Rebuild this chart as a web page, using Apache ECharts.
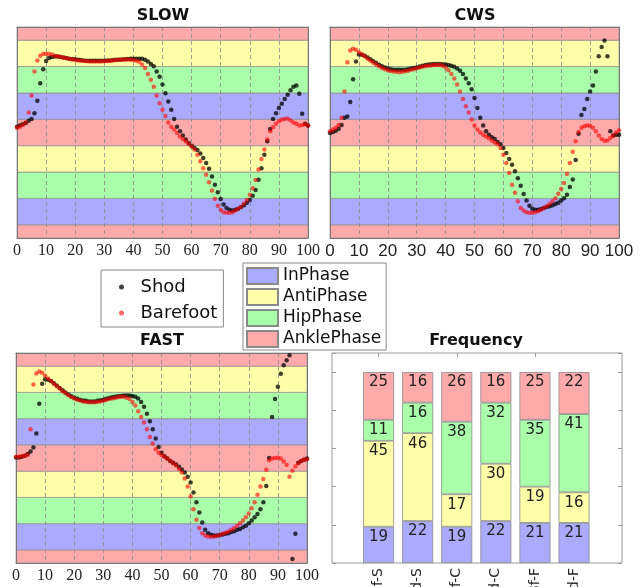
<!DOCTYPE html>
<html>
<head>
<meta charset="utf-8">
<script src="https://cdn.jsdelivr.net/npm/echarts@6/dist/echarts.min.js"></script>
<style>
  html, body { margin: 0; padding: 0; background: #fff; }
  #chart { width: 642px; height: 587px; }
</style>
</head>
<body>
<div id="chart"></div>
<script>
// Coordination phases and their band colours
const phaseNames = ['InPhase', 'AntiPhase', 'HipPhase', 'AnklePhase'];
const phaseColors = ['#aaaaff', '#ffffaa', '#aaffaa', '#ffaaaa'];

// Coupling-angle bins (degrees) and the phase each bin belongs to, bottom to top
const bandEdges = [0, 22.5, 67.5, 112.5, 157.5, 202.5, 247.5, 292.5, 337.5, 360];
const bandPhase = ['AnklePhase', 'InPhase', 'HipPhase', 'AntiPhase', 'AnklePhase',
                   'InPhase', 'HipPhase', 'AntiPhase', 'AnklePhase'];

// Coupling angle (deg) at each percent of the gait cycle, 0..100
const slowShod = [190,192,194,196,200,203,213,234,264,288,302,307,309,309.5,309.5,309,308,307,306,305.5,
  305,304,303.5,303,302.5,302.5,302.5,302.5,302.5,302.5,302.5,303,303,303.5,304,304,304.5,305,305.5,306,
  306,306,306,306,304,301,297,293,284,275,262,247,233,219,203,190,182,175,168,162,
  157.5,153.5,150,144,136.5,128,118,105,91,78,66.5,57,51,48,47,48,50,53,56,60,
  65,72,82,99.5,119,142,165,186,203,213,222,229,237,244.5,252,258,260,246,212,195,192];
const slowBare = [188,190,193,197,214,243,284,303,311,314,314.5,314,313,311,310,309,307.5,306.5,305.5,304.5,
  304,303,302.5,302,301.5,301,301,301,301,301,301.5,302,302.5,303,303.5,304,304,304.5,304.5,304,
  303.5,302.5,300.5,296,290,280,270,258,243,230,219,208,197,190,185,179,173,169,165,161,
  156,151,142,131,119,108,95,81,67,55,48,44,43,43,44,47,50,53,59,65,
  74,85,99,117,135,151,168,182,189,195,199,202,203,204,201,197,195,192,193,194,192];

const cwsShod = [179,181,183,186.5,193,205,207.5,232,271,301,313,312.5,311,308,305,301.5,298.5,295.5,293,291,
  289,288,287,287,287,287,287,288,289,290,291,292.5,294,295,296,296.5,297,297,297,296.5,
  296,295,294,292,289,285.5,280,272,264,254,239,222,205,192,182,176,172,169,164,160,
  153.5,145,135,125,114,102,89,75,64,55,50,48,48,49.5,51,53,54,56,58,60,
  64,68,74,87,100,133,178,210,220,237,250,260,284,310,326,337,310,182,175,176,176];
const cwsBare = [182,185,188,193,205,250,300,320,323,321,317,313.5,310,306,302.5,299,296,293,290,288,
  286,285,284,283.5,283,283.5,284.5,285.5,287,288,289.5,291,292,293,294,294.5,295,295,295,294,
  291,286,280,272,262,250,237,225,214,202,192,185,180,176,173,170,166.5,163,160,153.5,
  142,128,111,91,77,62.5,51,47,44,43,43,44,45.5,48,51,54,58,62.5,68,75.5,
  83.5,94,109,128,147,165,181,188,190.5,192,191.5,188,182,175,169,166,166.5,170.5,174.5,180,184];

const fastShod = [181,181,182,184,187,191,198,222,273,307.5,315,314,312,308,304.5,300,296,292.5,289,286,
  283.5,281.5,280,278.5,278,277,277,277,278,279,280,281.5,283,284,285,286,286.5,287,287,287,
  286.5,285,282,276,268,256,243,229.5,213.5,199,189,183,179,175,172,169,165,160.5,155,148,
  138,121,104,86.5,69.5,57,51,48.5,47,47,48,49,50,51,53,54.5,57,58.5,61.5,64,
  68,73,78.5,84,92,104,132,180,250.5,281,302,324.5,339,347.5,356,7,50,172,175,177,179];
const fastBare = [182,182,183,184,185,229.5,306,325,328.5,326,321,316.5,312,307.5,303,299,294.5,291,287.5,284.5,
  282,280,278.5,277,276,275.5,275.5,275.5,276,277,278,279.5,281,282,283,284,285,285,283.5,281,
  276,270,260,250.5,241,229.5,216,205,195,189,185,182,179,175,171,167,161,155,145,131,
  114,92,74,60,51,47,45.5,45,45.5,46.5,48,50,52,54,57,60,64,68,73,78.5,
  85,94,104,117,131,144,160,176,179,180,180.5,179,174,168,148,158,166,171,175,177,178];

// Share (%) of the cycle spent in each phase, per condition
const freqCats = ['Bf-S', 'Shd-S', 'Bf-C', 'Shd-C', 'Bf-F', 'Shd-F'];
const freqInPhase    = [19, 22, 19, 22, 21, 21];
const freqAntiPhase  = [45, 46, 17, 30, 19, 16];
const freqHipPhase   = [11, 16, 38, 32, 35, 41];
const freqAnklePhase = [25, 16, 26, 16, 25, 22];
const freqValues = [freqInPhase, freqAntiPhase, freqHipPhase, freqAnklePhase];

const panelTitles = ['SLOW', 'CWS', 'FAST', 'Frequency'];

const colorOf = name => phaseColors[phaseNames.indexOf(name)];
const bandAreas = bandPhase.map((p, i) => [
  { yAxis: bandEdges[i], itemStyle: { color: colorOf(p) } },
  { yAxis: bandEdges[i + 1] }
]);
const toPoints = arr => arr.map((v, i) => [i, v]);

const frameColor = '#777';
const serifLabels = { fontFamily: 'Liberation Serif', fontSize: 16, color: '#222', margin: 5 };
const sansLabels = { fontFamily: 'Liberation Sans', fontSize: 17, color: '#222', margin: 5 };

const panelGrids = [
  { left: 17, top: 27, width: 291, height: 211 },
  { left: 330, top: 27, width: 289, height: 211 },
  { left: 16, top: 353, width: 291, height: 210 }
];
const panelLabelStyles = [serifLabels, sansLabels, serifLabels];
const panelSeries = [[slowShod, slowBare], [cwsShod, cwsBare], [fastShod, fastBare]];

const grid = panelGrids.map(g => Object.assign({ outerBoundsMode: 'none', containLabel: false }, g));
grid.push({ left: 359, top: 353, width: 234.6, height: 210, outerBoundsMode: 'none', containLabel: false });
grid.push({ left: 332, top: 353, width: 290, height: 210, show: true, outerBoundsMode: 'none',
            containLabel: false, borderColor: '#999', borderWidth: 1, backgroundColor: 'transparent' });

const xAxis = [];
const yAxis = [];
panelGrids.forEach((g, k) => {
  xAxis.push({
    type: 'value', gridIndex: k, min: 0, max: 100, interval: 10, z: 3,
    axisLine: { show: true, onZero: false, lineStyle: { color: frameColor, width: 1 } },
    axisTick: { show: false },
    axisLabel: panelLabelStyles[k],
    splitLine: { show: true, lineStyle: { color: '#8a8a8a', width: 0.8, type: [4, 3] } }
  });
  xAxis.push({
    type: 'value', gridIndex: k, position: 'top', min: 0, max: 100, z: 3,
    axisLine: { show: true, onZero: false, lineStyle: { color: frameColor, width: 1 } },
    axisTick: { show: false }, axisLabel: { show: false }, splitLine: { show: false }
  });
  yAxis.push({
    type: 'value', gridIndex: k, min: 0, max: 360, z: 3,
    axisLine: { show: true, onZero: false, lineStyle: { color: frameColor, width: 1 } },
    axisTick: { show: false }, axisLabel: { show: false }, splitLine: { show: false }
  });
  yAxis.push({
    type: 'value', gridIndex: k, position: 'right', min: 0, max: 360, z: 3,
    axisLine: { show: true, onZero: false, lineStyle: { color: frameColor, width: 1 } },
    axisTick: { show: false }, axisLabel: { show: false }, splitLine: { show: false }
  });
});
// Frequency panel axes
xAxis.push({
  type: 'category', gridIndex: 3, data: freqCats,
  axisLine: { show: false }, axisTick: { show: false },
  axisLabel: { rotate: 90, margin: 5, fontFamily: 'DejaVu Sans', fontSize: 14, color: '#222' }
});
xAxis.push({
  type: 'category', gridIndex: 3, data: freqCats, position: 'top',
  axisLine: { show: false },
  axisTick: { show: true, inside: true, alignWithLabel: true, length: 4, lineStyle: { color: '#999' } },
  axisLabel: { show: false }
});
xAxis.push({ type: 'value', gridIndex: 4, min: 0, max: 1, show: false });
yAxis.push({ type: 'value', gridIndex: 3, min: 0, max: 110, show: false });
[ 'left', 'right' ].forEach(pos => {
  yAxis.push({
    type: 'value', gridIndex: 4, position: pos, min: 0, max: 110, interval: 20,
    axisLine: { show: false },
    axisTick: { show: true, inside: true, length: 4, lineStyle: { color: '#999' } },
    axisLabel: { show: false }, splitLine: { show: false }
  });
});

const series = [];
panelSeries.forEach((pair, k) => {
  series.push({
    type: 'line', name: 'bands', data: [], xAxisIndex: 2 * k, yAxisIndex: 2 * k, z: 1, silent: true,
    markArea: { silent: true, itemStyle: { borderColor: '#8c8c8c', borderWidth: 0.7 }, data: bandAreas }
  });
  series.push({
    type: 'scatter', name: 'Shod', xAxisIndex: 2 * k, yAxisIndex: 2 * k, z: 4, silent: true,
    symbolSize: 4.5, itemStyle: { color: '#000000', opacity: 0.75 }, data: toPoints(pair[0])
  });
  series.push({
    type: 'scatter', name: 'Barefoot', xAxisIndex: 2 * k, yAxisIndex: 2 * k, z: 5, silent: true,
    symbolSize: 4.5, itemStyle: { color: '#ff0000', opacity: 0.6 }, data: toPoints(pair[1])
  });
});
phaseNames.forEach((name, k) => {
  series.push({
    type: 'bar', name: name, stack: 'freq', xAxisIndex: 6, yAxisIndex: 6, barWidth: 31,
    itemStyle: { color: phaseColors[k], borderColor: '#8a8a8a', borderWidth: 0.8 },
    label: { show: true, position: 'insideTop', distance: 3,
             fontFamily: 'DejaVu Sans', fontSize: 15, color: '#222' },
    data: freqValues[k]
  });
});

const titleStyle = { fontFamily: 'DejaVu Sans', fontWeight: 'bold', fontSize: 16, color: '#111' };
const titlePos = [[163, 8], [475, 8], [162, 333], [476, 333]];

const option = {
  animation: false,
  backgroundColor: '#ffffff',
  title: panelTitles.map((t, i) => ({
    text: t, left: titlePos[i][0], top: titlePos[i][1], textAlign: 'center',
    padding: 0, textStyle: titleStyle
  })),
  legend: [
    {
      data: ['Shod', 'Barefoot'], orient: 'vertical', left: 101, top: 270,
      padding: [8, 6, 5, 18], itemGap: 8, itemWidth: 6, itemHeight: 5, icon: 'circle',
      borderColor: '#888', borderWidth: 1, backgroundColor: '#fff',
      textStyle: { fontFamily: 'DejaVu Sans', fontSize: 18, lineHeight: 18, color: '#111',
                   padding: [0, 0, 0, 11] }
    },
    {
      data: phaseNames, orient: 'vertical', left: 243, top: 263,
      padding: [4, 5, 2, 3], itemGap: 3, itemWidth: 31, itemHeight: 16, icon: 'rect',
      borderColor: '#888', borderWidth: 1, backgroundColor: '#fff',
      textStyle: { fontFamily: 'DejaVu Sans', fontSize: 17, lineHeight: 16, color: '#111' }
    }
  ],
  grid: grid,
  xAxis: xAxis,
  yAxis: yAxis,
  series: series
};

const chart = echarts.init(document.getElementById('chart'), null, { renderer: 'canvas' });
chart.setOption(option);
</script>
</body>
</html>
